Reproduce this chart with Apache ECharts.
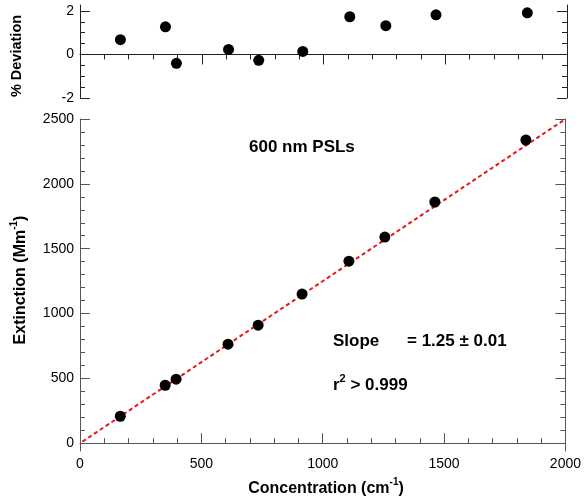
<!DOCTYPE html>
<html><head><meta charset="utf-8">
<script src="https://cdn.jsdelivr.net/npm/echarts@6/dist/echarts.min.js"></script>
<style>html,body{margin:0;padding:0;background:#fff}#c{width:584px;height:503px}</style>
</head><body><div id="c"></div>
<script>
const concentration = [166, 351, 396, 610, 734, 915, 1108, 1256, 1462, 1837];
const extinction = [208, 447, 494, 764, 910, 1150, 1404, 1590, 1860, 2338];
const deviation = [0.68, 1.27, -0.41, 0.23, -0.27, 0.14, 1.73, 1.32, 1.82, 1.91];
const fitX = [10, 2000];
const fitY = [12, 2500];
const devMajor = [-2, 0, 2];
const devMinor = [-1.5, -1, -0.5, 0.5, 1, 1.5];
const extMajor = [0, 500, 1000, 1500, 2000, 2500];
const extMinor = [100, 200, 300, 400, 600, 700, 800, 900, 1100, 1200, 1300, 1400, 1600, 1700, 1800, 1900, 2100, 2200, 2300, 2400];

const FONT = '"Liberation Sans", Arial, sans-serif';
const topColor = '#222';
const botColor = '#555';
const plain = v => String(v);

function yAx(grid, pos, min, max, vals, len, color, labels, line) {
  return {
    type: 'value', gridIndex: grid, position: pos, min: min, max: max,
    axisLine: { show: line, lineStyle: { color: color, width: 1 } },
    axisTick: { show: true, inside: true, length: len, customValues: vals, lineStyle: { color: color, width: 1 } },
    axisLabel: labels ? { show: true, customValues: vals, formatter: plain, fontSize: 14, color: '#000', fontFamily: FONT, margin: 6 } : { show: false },
    splitLine: { show: false }
  };
}
function xAx(grid, pos, color, labels) {
  return {
    type: 'value', gridIndex: grid, position: pos, min: 0, max: 2000, interval: 500,
    axisLine: { show: true, lineStyle: { color: color, width: 1 } },
    axisTick: { show: true, inside: true, length: 10, lineStyle: { color: color, width: 1 } },
    minorTick: { show: true, splitNumber: 5, length: 5, lineStyle: { color: color, width: 1 } },
    axisLabel: labels ? { show: true, formatter: plain, fontSize: 14, color: '#000', fontFamily: FONT, margin: 6 } : { show: false },
    splitLine: { show: false }, minorSplitLine: { show: false }
  };
}

const chart = echarts.init(document.getElementById('c'), null, { renderer: 'canvas' });
const titleFont = 'bold 16px ' + FONT;
const supRich = {
  a: { font: titleFont, fill: '#000' },
  s: { font: 'bold 10px ' + FONT, fill: '#000', padding: [0, 0, 13, 0] }
};
const big = 'bold 17px ' + FONT;
chart.setOption({
  animation: false,
  backgroundColor: '#fff',
  grid: [
    { left: 80, right: 17, top: 5, height: 93 },
    { left: 80, right: 17, top: 119, height: 332 }
  ],
  xAxis: [xAx(0, 'top', topColor, false), xAx(1, 'bottom', botColor, true)],
  yAxis: [
    yAx(0, 'left', -2, 2.27, devMajor, 10, topColor, true, true),
    yAx(0, 'left', -2, 2.27, devMinor, 5, topColor, false, false),
    yAx(0, 'right', -2, 2.27, devMajor, 10, topColor, false, true),
    yAx(0, 'right', -2, 2.27, devMinor, 5, topColor, false, false),
    yAx(1, 'left', -60, 2500, extMajor, 10, botColor, true, true),
    yAx(1, 'left', -60, 2500, extMinor, 5, botColor, false, false),
    yAx(1, 'right', -60, 2500, extMajor, 10, botColor, false, true),
    yAx(1, 'right', -60, 2500, extMinor, 5, botColor, false, false)
  ],
  series: [
    {
      type: 'scatter', xAxisIndex: 0, yAxisIndex: 0, symbol: 'circle', symbolSize: 11,
      itemStyle: { color: '#000', opacity: 1 },
      data: concentration.map((c, i) => [c, deviation[i]])
    },
    {
      type: 'line', xAxisIndex: 1, yAxisIndex: 4, symbol: 'none', z: 1,
      lineStyle: { color: '#e8161b', width: 2, type: [4, 3] },
      data: fitX.map((c, i) => [c, fitY[i]])
    },
    {
      type: 'scatter', xAxisIndex: 1, yAxisIndex: 4, symbol: 'circle', symbolSize: 11, z: 3,
      itemStyle: { color: '#000', opacity: 1 },
      data: concentration.map((c, i) => [c, extinction[i]])
    }
  ],
  graphic: [
    { type: 'text', x: 17, y: 56, rotation: Math.PI / 2,
      style: { text: '% Deviation', font: 'bold 14.5px ' + FONT, fill: '#000', align: 'center', verticalAlign: 'middle' } },
    { type: 'text', x: 21, y: 280, rotation: Math.PI / 2,
      style: { text: '{a|Extinction (Mm}{s|-1}{a|)}', rich: supRich, align: 'center', verticalAlign: 'middle' } },
    { type: 'text', x: 326, y: 489,
      style: { text: '{a|Concentration (cm}{s|-1}{a|)}', rich: supRich, align: 'center', verticalAlign: 'middle' } },
    { type: 'text', x: 249, y: 147,
      style: { text: '600 nm PSLs', font: big, fill: '#000', align: 'left', verticalAlign: 'middle' } },
    { type: 'text', x: 333, y: 341,
      style: { text: 'Slope', font: big, fill: '#000', align: 'left', verticalAlign: 'middle' } },
    { type: 'text', x: 407, y: 341,
      style: { text: '= 1.25 ± 0.01', font: big, fill: '#000', align: 'left', verticalAlign: 'middle' } },
    { type: 'text', x: 333, y: 385,
      style: { text: '{b|r}{t|2}{b| > 0.999}', align: 'left', verticalAlign: 'middle',
        rich: { b: { font: big, fill: '#000' }, t: { font: 'bold 11px ' + FONT, fill: '#000', padding: [0, 0, 12, 0] } } } }
  ]
});
</script></body></html>
